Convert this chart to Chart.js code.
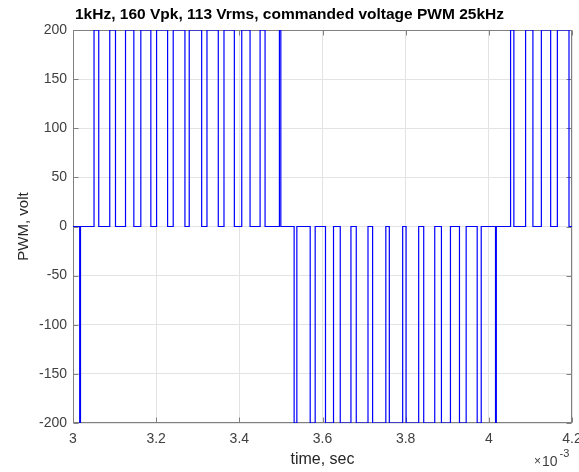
<!DOCTYPE html>
<html>
<head>
<meta charset="utf-8">
<script src="https://cdn.jsdelivr.net/npm/chart.js@4.4.1/dist/chart.umd.min.js"></script>
<style>
  html, body { margin: 0; padding: 0; background: #fff; }
</style>
</head>
<body>
<canvas id="pwmChart" width="579" height="472"></canvas>
<script>
// switching instants in ms (axis shows sec x 10^-3) and the level the output steps to
const timeMs = [
  3.0, 3.0161, 3.0180,
  3.0506, 3.0619, 3.0884, 3.1022, 3.1263, 3.1463, 3.1631, 3.1872,
  3.2010, 3.2275, 3.2410, 3.2692, 3.2795, 3.3094, 3.3222, 3.3494,
  3.3631, 3.3880, 3.4058, 3.4258, 3.4499, 3.4619, 3.4964, 3.4998,
  3.5318, 3.5383, 3.5704, 3.5824, 3.6072, 3.6265, 3.6427, 3.6684,
  3.6812, 3.7094, 3.7205, 3.7523, 3.7607, 3.7928, 3.8010, 3.8313,
  3.8434, 3.8699, 3.8860, 3.9077, 3.9294, 3.9455, 3.9720, 3.9817,
  4.0161, 4.0180,
  4.0523, 4.0602, 4.0884, 4.1060, 4.1263, 4.1487, 4.1648, 4.1928,
  4.2
];
const levelV = [
  0, -200, 0,
  200, 0, 200, 0, 200, 0, 200, 0,
  200, 0, 200, 0, 200, 0, 200, 0,
  200, 0, 200, 0, 200, 0, 200, 0,
  -200, 0, -200, 0, -200, 0, -200, 0,
  -200, 0, -200, 0, -200, 0, -200, 0,
  -200, 0, -200, 0, -200, 0, -200, 0,
  -200, 0,
  200, 0, 200, 0, 200, 0, 200, 0,
  0
];
const xTicks = [3, 3.2, 3.4, 3.6, 3.8, 4, 4.2];
const yTicks = [-200, -150, -100, -50, 0, 50, 100, 150, 200];

const FONT = 'Liberation Sans, Arial, sans-serif';
const AXIS_COLOR = '#808080';
const TEXT_COLOR = '#404040';

// matlab style box with inward ticks
const axesBox = {
  id: 'axesBox',
  beforeDatasetsDraw(chart) {
    const { ctx, chartArea: a, scales: { x, y } } = chart;
    const l = Math.round(a.left) + 0.5, r = Math.round(a.right) - 0.5;
    const t = Math.round(a.top) + 0.5, b = Math.round(a.bottom) - 0.5;
    ctx.save();
    ctx.strokeStyle = AXIS_COLOR;
    ctx.lineWidth = 1;
    ctx.beginPath();
    xTicks.forEach(v => {
      const px = Math.round(x.getPixelForValue(v)) + 0.5;
      ctx.moveTo(px, b); ctx.lineTo(px, b - 5);
      ctx.moveTo(px, t); ctx.lineTo(px, t + 5);
    });
    yTicks.forEach(v => {
      const py = Math.round(y.getPixelForValue(v)) + 0.5;
      ctx.moveTo(l, py); ctx.lineTo(l + 5, py);
      ctx.moveTo(r, py); ctx.lineTo(r - 5, py);
    });
    ctx.stroke();
    ctx.strokeRect(l, t, r - l, b - t);
    ctx.restore();
  },
  afterDraw(chart) {
    // exponent note under the right end of the x axis
    const { ctx } = chart;
    ctx.save();
    ctx.fillStyle = TEXT_COLOR;
    ctx.textBaseline = 'alphabetic';
    ctx.textAlign = 'left';
    ctx.font = '12px ' + FONT;
    ctx.fillText('\u00d7', 534, 465);
    ctx.font = '14px ' + FONT;
    ctx.fillText('10', 542, 466);
    ctx.font = '11px ' + FONT;
    ctx.fillText('-3', 559.5, 457);
    ctx.restore();
  }
};

new Chart(document.getElementById('pwmChart').getContext('2d'), {
  type: 'line',
  data: {
    datasets: [{
      data: timeMs.map((t, i) => ({ x: t, y: levelV[i] })),
      stepped: 'before',
      borderColor: '#0000ff',
      borderWidth: 1.2,
      pointRadius: 0,
      fill: false
    }]
  },
  options: {
    responsive: false,
    animation: false,
    layout: { padding: 0 },
    scales: {
      x: {
        type: 'linear',
        min: 3,
        max: 4.2,
        afterBuildTicks: s => { s.ticks = xTicks.map(v => ({ value: v })); },
        afterFit: s => { s.height = 49; s.paddingLeft = 0; s.paddingRight = 7; },
        grid: { color: '#e3e3e3', drawTicks: false },
        border: { display: false },
        ticks: {
          padding: 8,
          color: TEXT_COLOR,
          font: { family: FONT, size: 14 },
          maxRotation: 0,
          callback: v => String(Number(v.toFixed(1)))
        },
        title: {
          display: true,
          text: 'time, sec',
          color: '#262626',
          font: { family: FONT, size: 16 },
          padding: { top: 0, bottom: 2.5 }
        }
      },
      y: {
        min: -200,
        max: 200,
        afterBuildTicks: s => { s.ticks = yTicks.map(v => ({ value: v })); },
        afterFit: s => { s.width = 73; },
        grid: { color: '#e3e3e3', drawTicks: false },
        border: { display: false },
        ticks: {
          padding: 6,
          color: TEXT_COLOR,
          font: { family: FONT, size: 14 }
        },
        title: {
          display: true,
          text: 'PWM, volt',
          color: '#262626',
          font: { family: FONT, size: 15 },
          padding: { top: 15, bottom: 0 }
        }
      }
    },
    plugins: {
      legend: { display: false },
      tooltip: { enabled: false },
      title: {
        display: true,
        text: '1kHz, 160 Vpk, 113 Vrms, commanded voltage PWM 25kHz',
        color: '#000',
        font: { family: FONT, size: 15.5, weight: 'bold' },
        padding: { top: 5.7, bottom: 5.7 }
      }
    }
  },
  plugins: [axesBox]
});
</script>
</body>
</html>
